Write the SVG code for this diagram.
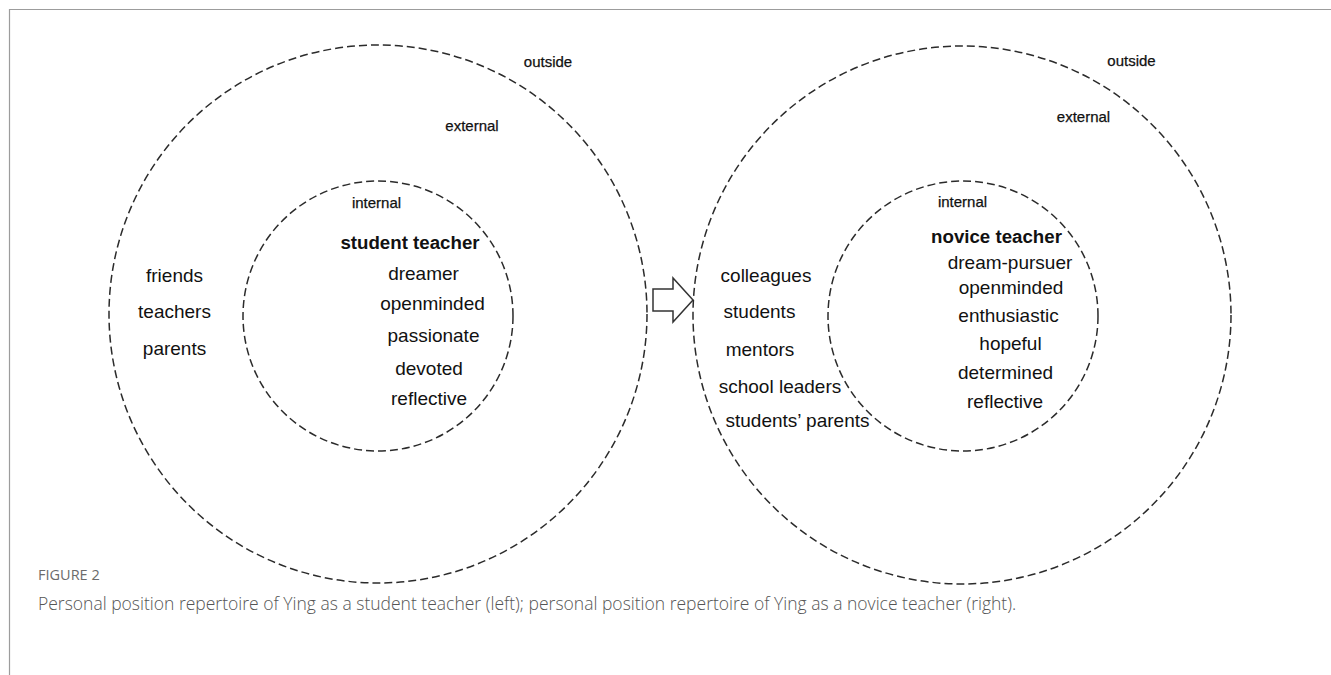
<svg xmlns="http://www.w3.org/2000/svg" width="1331" height="675" viewBox="0 0 1331 675">
  <style>
    .ring { fill: none; stroke: #2b2b2b; stroke-width: 1.5; stroke-dasharray: 8 4; }
    .zone { font-family: "Liberation Sans", Arial, sans-serif; font-size: 15px; fill: #111; stroke: #111; stroke-width: 0.25; text-anchor: middle; }
    .item { font-family: "Liberation Sans", Arial, sans-serif; font-size: 19px; fill: #111; text-anchor: middle; }
    .self { font-family: "Liberation Sans", Arial, sans-serif; font-size: 18.7px; font-weight: bold; fill: #111; text-anchor: middle; }
    .fig { font-family: "Open Sans", "Liberation Sans", sans-serif; font-size: 14.5px; fill: #6b6b6b; }
    .cap { font-family: "Open Sans", "Liberation Sans", sans-serif; font-size: 17.5px; font-weight: 300; fill: #555; }
  </style>

  <rect width="1331" height="675" fill="#fff"/>
  <!-- frame -->
  <path d="M9.5 675 V9.5 H1331" fill="none" stroke="#9c9c9c" stroke-width="1.2"/>

  <!-- student teacher repertoire -->
  <g id="left-outside">
    <circle class="ring" cx="378" cy="314" r="269"/>
    <text class="zone" x="548" y="67">outside</text>
  </g>
  <g id="left-external">
    <text class="zone" x="472" y="131">external</text>
    <text class="item" x="174.5" y="282">friends</text>
    <text class="item" x="174.5" y="318">teachers</text>
    <text class="item" x="174.5" y="355">parents</text>
  </g>
  <g id="left-internal">
    <circle class="ring" cx="378" cy="316" r="135"/>
    <text class="zone" x="376.5" y="208">internal</text>
    <text class="self" x="410" y="249">student teacher</text>
    <text class="item" x="423.5" y="280">dreamer</text>
    <text class="item" x="432.5" y="310">openminded</text>
    <text class="item" x="433.5" y="342">passionate</text>
    <text class="item" x="429" y="375">devoted</text>
    <text class="item" x="429" y="405">reflective</text>
  </g>

  <!-- transition arrow -->
  <g id="connectors">
    <polygon points="653,289 673,289 673,278 693,300 673,322 673,311 653,311" fill="#fff" stroke="#333" stroke-width="1.5" stroke-linejoin="miter"/>
  </g>

  <!-- novice teacher repertoire -->
  <g id="right-outside">
    <circle class="ring" cx="962" cy="315" r="269"/>
    <text class="zone" x="1131.5" y="66">outside</text>
  </g>
  <g id="right-external">
    <text class="zone" x="1083.5" y="122">external</text>
    <text class="item" x="766" y="282">colleagues</text>
    <text class="item" x="759.5" y="318">students</text>
    <text class="item" x="760" y="356">mentors</text>
    <text class="item" x="780" y="393">school leaders</text>
    <text class="item" x="797.5" y="427">students’ parents</text>
  </g>
  <g id="right-internal">
    <circle class="ring" cx="963" cy="316" r="135"/>
    <text class="zone" x="962.5" y="207">internal</text>
    <text class="self" x="996.5" y="243">novice teacher</text>
    <text class="item" x="1010" y="269">dream-pursuer</text>
    <text class="item" x="1011" y="294">openminded</text>
    <text class="item" x="1008.5" y="322">enthusiastic</text>
    <text class="item" x="1010.5" y="350">hopeful</text>
    <text class="item" x="1005.5" y="379">determined</text>
    <text class="item" x="1005" y="408">reflective</text>
  </g>

  <!-- caption -->
  <text class="fig" x="38" y="580">FIGURE 2</text>
  <text class="cap" x="38" y="610">Personal position repertoire of Ying as a student teacher (left); personal position repertoire of Ying as a novice teacher (right).</text>
</svg>
